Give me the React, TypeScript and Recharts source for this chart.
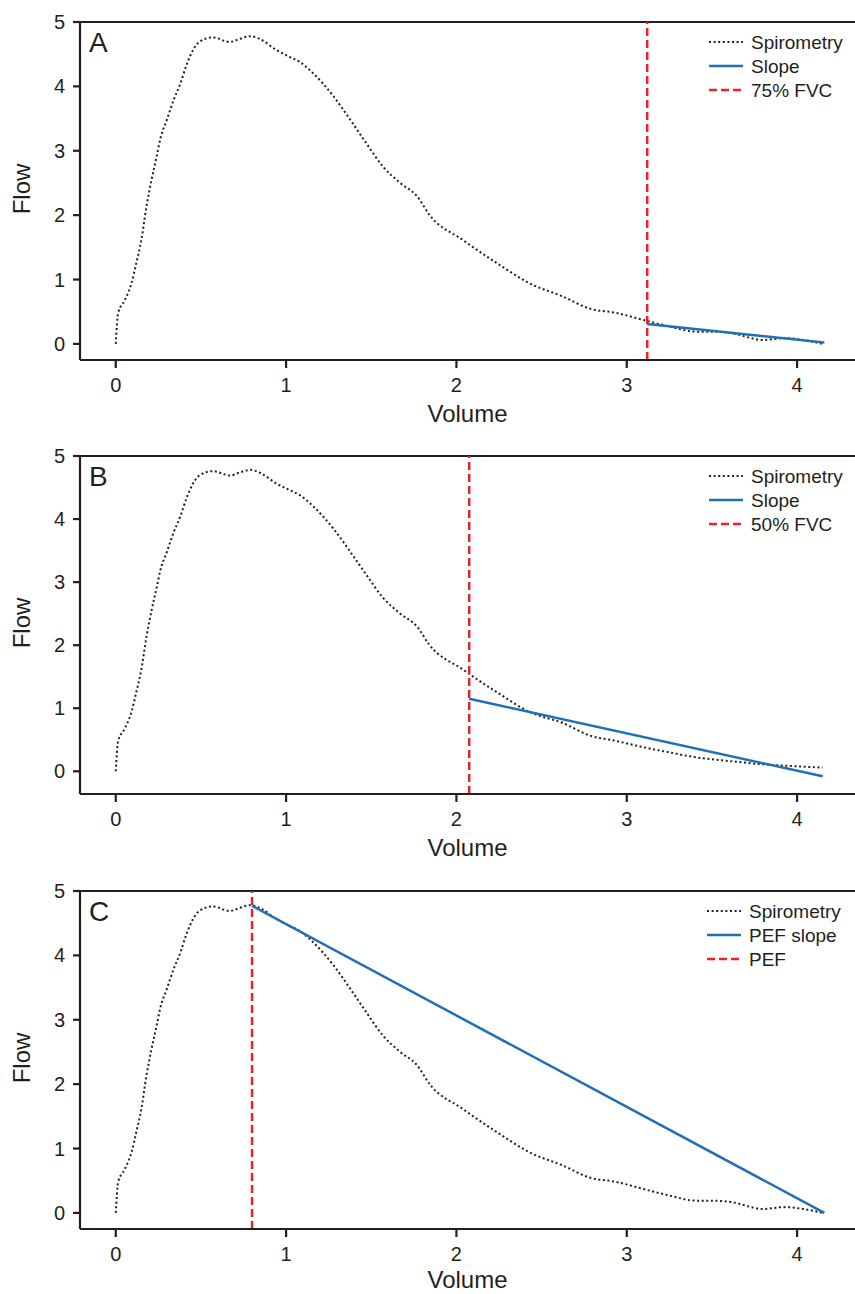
import React from "react";
import { LineChart, Line, XAxis, YAxis, ReferenceLine } from "recharts";

// spirometry curve (volume L, flow L/s)
const spiroVolume = [
  0, 0.014, 0.053, 0.092, 0.12, 0.15, 0.18, 0.21, 0.24, 0.26, 0.3, 0.34, 0.38, 0.415, 0.455,
  0.49, 0.57, 0.67, 0.73, 0.79, 0.85, 0.94, 1.02, 1.08, 1.16, 1.28, 1.39, 1.47, 1.57, 1.67,
  1.77, 1.84, 2.04, 2.24, 2.43, 2.63, 2.78, 2.94, 3.1, 3.25, 3.41, 3.5, 3.61, 3.8, 3.92, 4.06,
  4.15,
];
const spiroFlow = [
  0, 0.48, 0.68, 0.94, 1.25, 1.61, 2.13, 2.55, 2.91, 3.17, 3.48, 3.79, 4.05, 4.33, 4.57, 4.69,
  4.76, 4.69, 4.74, 4.78, 4.73, 4.57, 4.46, 4.38, 4.2, 3.84, 3.43, 3.12, 2.75, 2.5, 2.29, 2.01,
  1.61, 1.25, 0.94, 0.73, 0.55, 0.48, 0.37, 0.27, 0.19, 0.19, 0.17, 0.06, 0.09, 0.05, 0,
];
// panel B has a flatter tail
const spiroFlowB = [
  0, 0.48, 0.68, 0.94, 1.25, 1.61, 2.13, 2.55, 2.91, 3.17, 3.48, 3.79, 4.05, 4.33, 4.57, 4.69,
  4.76, 4.69, 4.74, 4.78, 4.73, 4.57, 4.46, 4.38, 4.2, 3.84, 3.43, 3.12, 2.75, 2.5, 2.29, 2.01,
  1.61, 1.25, 0.94, 0.76, 0.57, 0.48, 0.38, 0.3, 0.22, 0.19, 0.16, 0.11, 0.09, 0.07, 0.06,
];

const slopeVolumeA = [3.12, 4.16];
const slopeFlowA = [0.31, 0.02];
const slopeVolumeB = [2.075, 4.15];
const slopeFlowB = [1.15, -0.08];
const slopeVolumeC = [0.8, 4.16];
const slopeFlowC = [4.77, 0];

const cutVolumes = [3.12, 2.075, 0.8];
const panelLetters = ["A", "B", "C"];
const slopeNames = ["Slope", "Slope", "PEF slope"];
const cutNames = ["75% FVC", "50% FVC", "PEF"];

const xTicks = [0, 1, 2, 3, 4];
const yTicks = [0, 1, 2, 3, 4, 5];

const FONT = "'Liberation Sans', Arial, sans-serif";
const INK = "#231f20";
const BLUE = "#1f70b5";
const RED = "#ed2228";
const DOTS = "2 2.6";

const toPoints = (vs: number[], fs: number[]) => vs.map((v, i) => ({ v, f: fs[i] }));

const panels = [
  { top: 0, yMin: -0.25, spiro: toPoints(spiroVolume, spiroFlow), slope: toPoints(slopeVolumeA, slopeFlowA), legendLeft: 706, labelDy: 62 },
  { top: 434, yMin: -0.36, spiro: toPoints(spiroVolume, spiroFlowB), slope: toPoints(slopeVolumeB, slopeFlowB), legendLeft: 706, labelDy: 62 },
  { top: 864, yMin: -0.25, spiro: toPoints(spiroVolume, spiroFlow), slope: toPoints(slopeVolumeC, slopeFlowC), legendLeft: 704, labelDy: 59 },
];

function LegendBox({ slopeName, cutName }: { slopeName: string; cutName: string }) {
  const rows = [
    { name: "Spirometry", color: INK, dash: DOTS, w: 2 },
    { name: slopeName, color: BLUE, dash: undefined, w: 2.5 },
    { name: cutName, color: RED, dash: "8 4", w: 2.5 },
  ];
  return (
    <svg width={145} height={110} style={{ display: "block" }}>
      {rows.map((r, i) => (
        <g key={r.name} transform={`translate(0, ${42 + i * 24})`}>
          <line x1={3} x2={37} y1={0} y2={0} stroke={r.color} strokeWidth={r.w} strokeDasharray={r.dash} />
          <text x={45} y={7} fontSize={19} fontFamily={FONT} fill={INK}>
            {r.name}
          </text>
        </g>
      ))}
    </svg>
  );
}

function Panel({ idx }: { idx: number }) {
  const p = panels[idx];
  const top = idx === 2 ? 27 : 22;
  return (
    <div style={{ position: "absolute", left: 0, top: p.top, width: 855, height: 430 }}>
      <LineChart width={855} height={430} margin={{ top, right: 0, bottom: 0, left: 0 }}>
        <XAxis
          dataKey="v"
          type="number"
          domain={[-0.21, 4.34]}
          allowDataOverflow
          ticks={xTicks}
          tickSize={8}
          tickMargin={10}
          height={70 - (top - 22)}
          stroke={INK}
          strokeWidth={2.2}
          tick={{ fontSize: 20, fontFamily: FONT, fill: INK }}
          label={{
            content: (props: any) => {
              const vb = props.viewBox;
              return (
                <text x={vb.x + vb.width / 2} y={vb.y + p.labelDy} textAnchor="middle" fontSize={24} fontFamily={FONT} fill={INK}>
                  Volume
                </text>
              );
            },
          }}
        />
        <YAxis
          dataKey="f"
          type="number"
          domain={[p.yMin, 5]}
          allowDataOverflow
          ticks={yTicks}
          tickSize={7}
          tickMargin={8}
          width={80}
          stroke={INK}
          strokeWidth={2.2}
          tick={{ fontSize: 20, fontFamily: FONT, fill: INK }}
          label={{
            content: (props: any) => {
              const vb = props.viewBox;
              const x = vb.x + 30;
              const y = vb.y + vb.height / 2 - 2;
              return (
                <text x={x} y={y} transform={`rotate(-90 ${x} ${y})`} textAnchor="middle" fontSize={24} fontFamily={FONT} fill={INK}>
                  Flow
                </text>
              );
            },
          }}
        />
        <ReferenceLine y={5} stroke={INK} strokeWidth={2.2} />
        <Line
          data={p.spiro}
          dataKey="f"
          type="monotone"
          stroke={INK}
          strokeWidth={2}
          strokeDasharray={DOTS}
          dot={false}
          isAnimationActive={false}
        />
        <Line
          data={p.slope}
          dataKey="f"
          type="linear"
          stroke={BLUE}
          strokeWidth={2.5}
          dot={false}
          isAnimationActive={false}
        />
        <ReferenceLine x={cutVolumes[idx]} stroke={RED} strokeWidth={2.5} strokeDasharray="8 4" />
      </LineChart>
      <div
        style={{
          position: "absolute",
          left: 89,
          top: top + 7,
          fontFamily: FONT,
          fontSize: 28,
          lineHeight: "28px",
          color: INK,
        }}
      >
        {panelLetters[idx]}
      </div>
      <div style={{ position: "absolute", left: p.legendLeft, top: top - 22 }}>
        <LegendBox slopeName={slopeNames[idx]} cutName={cutNames[idx]} />
      </div>
    </div>
  );
}

export default function App() {
  return (
    <div style={{ position: "absolute", left: 0, top: 0, width: 855, height: 1294, overflow: "hidden", background: "#fff" }}>
      <Panel idx={0} />
      <Panel idx={1} />
      <Panel idx={2} />
    </div>
  );
}
